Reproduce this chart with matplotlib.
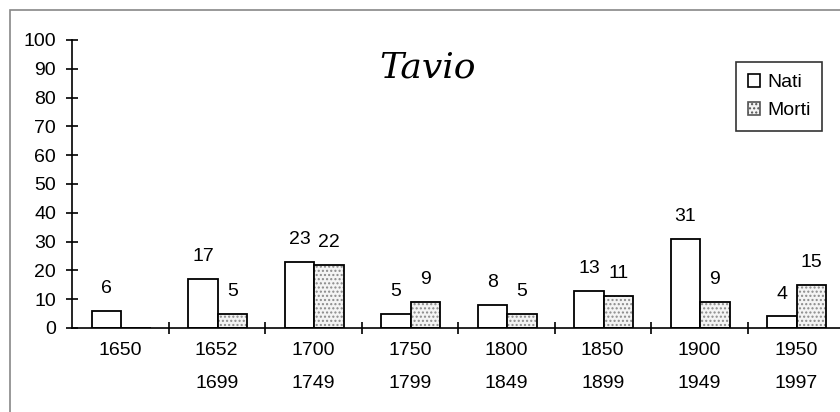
import matplotlib.pyplot as plt
import numpy as np
from matplotlib.patches import Rectangle, Patch

plt.rcParams["font.family"] = ["Liberation Sans", "DejaVu Sans"]

periods = ["1650", "1652\n1699", "1700\n1749", "1750\n1799",
           "1800\n1849", "1850\n1899", "1900\n1949", "1950\n1997"]
nati = [6, 17, 23, 5, 8, 13, 31, 4]
morti = [0, 5, 22, 9, 5, 11, 9, 15]

W, H = 840, 412
fig = plt.figure(figsize=(W / 100, H / 100), dpi=100)

# outer frame of the original chart object (right/bottom edges cut off)
fig.patches.append(Rectangle((10 / W, -0.05), 1.1, 1 - 10 / H + 0.05,
                             transform=fig.transFigure, fill=False,
                             edgecolor="#888888", linewidth=1.2))

ax = fig.add_axes([72 / W, 1 - 328 / H, 772 / W, 288 / H])

x = np.arange(len(periods))
bw = 0.305
xn = x - bw / 2 + 0.01
xm = x + bw / 2 + 0.01

ax.bar(xn, nati, bw, color="white", edgecolor="black", linewidth=1.3)
# dotted fill drawn separately so the dots can be grey
ax.bar(xm, morti, bw, color="#f4f4f4", edgecolor="#8a8a8a", hatch="....",
       linewidth=0)
ax.bar(xm, morti, bw, color="none", edgecolor="black", linewidth=1.3)

for xi, v in zip(xn, nati):
    ax.annotate(str(v), (xi, v), xytext=(0, 10), textcoords="offset points",
                ha="center", va="bottom", fontsize=14)
for xi, v in zip(xm, morti):
    if v:
        ax.annotate(str(v), (xi, v), xytext=(0, 10), textcoords="offset points",
                    ha="center", va="bottom", fontsize=14)

ax.set_xlim(-0.5, 7.5)
ax.set_ylim(0, 100)
ax.set_yticks(range(0, 101, 10))
ax.set_xticks(x)
ax.set_xticklabels(periods, fontsize=14, linespacing=2.25)
ax.set_xticks(x[:-1] + 0.5, minor=True)
ax.tick_params(axis="x", which="major", length=0, pad=10)
ax.tick_params(axis="x", which="minor", direction="inout", length=9,
               width=1.2)
ax.tick_params(axis="y", direction="inout", length=9, width=1.2,
               labelsize=14, pad=7)

for s in ("top", "right"):
    ax.spines[s].set_visible(False)
for s in ("left", "bottom"):
    ax.spines[s].set_linewidth(1.2)

fig.text(428 / W, 1 - 67 / H, "Tavio", ha="center", va="center",
         fontsize=26, style="italic", family="DejaVu Serif")

handles = [Patch(facecolor="white", edgecolor="black", linewidth=1.2),
           Patch(facecolor="#f4f4f4", edgecolor="#555555", hatch="....",
                 linewidth=1.2)]
leg = ax.legend(handles, ["Nati", "Morti"], loc="upper left",
                bbox_to_anchor=((736 - 72) / 772, (328 - 62) / 288),
                fontsize=14, frameon=True, fancybox=False, handlelength=0.65,
                handleheight=0.65, handletextpad=0.35, labelspacing=0.55,
                borderpad=0.6, borderaxespad=0)
leg.get_frame().set_edgecolor("black")
leg.get_frame().set_linewidth(1.2)

fig.savefig("out.png", dpi=100)
